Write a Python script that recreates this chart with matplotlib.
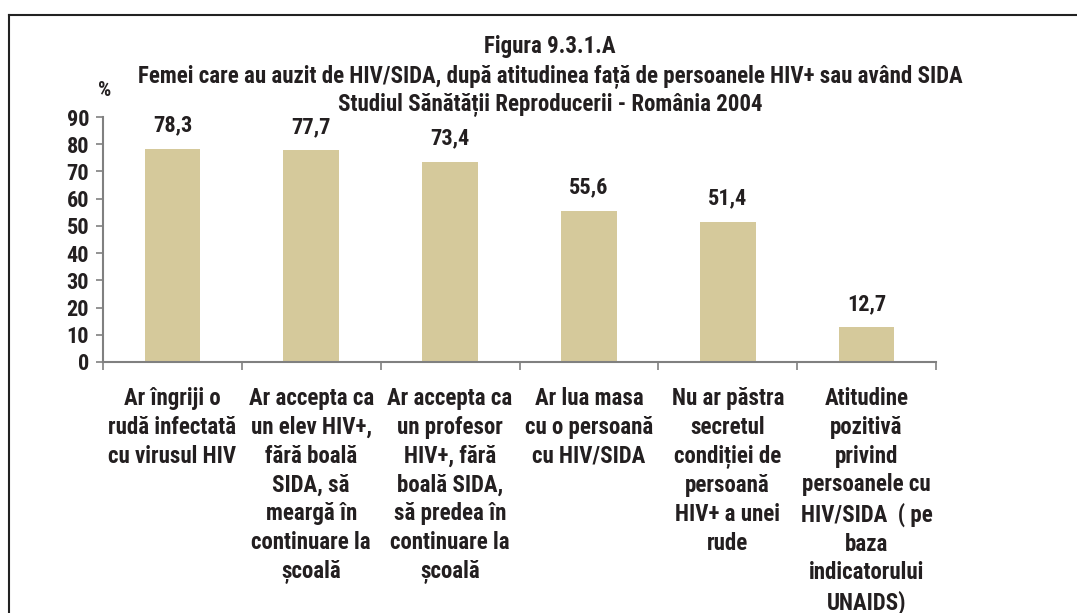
import matplotlib.pyplot as plt
from matplotlib.lines import Line2D

# ---------------------------------------------------------------------------
# data
# ---------------------------------------------------------------------------

categorii = [
    "Ar îngriji o\nrudă infectată\ncu virusul HIV",
    "Ar accepta ca\nun elev HIV+,\nfără boală\nSIDA, să\nmeargă în\ncontinuare la\nșcoală",
    "Ar accepta ca\nun profesor\nHIV+, fără\nboală SIDA,\nsă predea în\ncontinuare la\nșcoală",
    "Ar lua masa\ncu o persoană\ncu HIV/SIDA",
    "Nu ar păstra\nsecretul\ncondiției de\npersoană\nHIV+ a unei\nrude",
    "Atitudine\npozitivă\nprivind\npersoanele cu\nHIV/SIDA  ( pe\nbaza\nindicatorului\nUNAIDS)",
]
procente = [78.3, 77.7, 73.4, 55.6, 51.4, 12.7]
y_ticks = [0, 10, 20, 30, 40, 50, 60, 70, 80, 90]

titlu = ["Figura 9.3.1.A",
         "Femei care au auzit de HIV/SIDA, după atitudinea față de persoanele HIV+ sau având SIDA",
         "Studiul Sănătății Reproducerii - România 2004"]

# ---------------------------------------------------------------------------

plt.rcParams['font.family'] = ['Roboto Condensed', 'DejaVu Sans']
plt.rcParams['font.weight'] = 'bold'
INK = '#231f20'

W, H = 1077, 613
fig = plt.figure(figsize=(W / 100, H / 100), dpi=100)
ax = fig.add_axes([103 / W, 1 - 362 / H, (936 - 103) / W, (362 - 117) / H])

x = list(range(len(procente)))
ax.bar(x, procente, width=0.4, color='#d5c99b', zorder=2)

for xi, v in zip(x, procente):
    ax.annotate(f"{v:.1f}".replace('.', ','), (xi, v), xytext=(0, 9),
                textcoords='offset points', ha='center', va='bottom',
                fontsize=16, fontweight='bold', color=INK)

ax.set_xlim(-0.5, len(procente) - 0.5)
ax.set_ylim(0, 90)
ax.set_yticks(y_ticks)
ax.set_yticklabels([str(t) for t in y_ticks], fontsize=16, fontweight='bold',
                   color=INK)

ax.set_xticks(x)
ax.set_xticklabels(categorii, fontsize=16.5, fontweight='bold', color=INK,
                   linespacing=1.32, va='top')
ax.set_xticks([i - 0.5 for i in range(len(procente) + 1)], minor=True)
ax.tick_params(axis='x', which='major', length=0, pad=18)
ax.tick_params(axis='x', which='minor', length=6, width=1.2, color='#808080')
ax.tick_params(axis='y', length=5, width=1.2, color='#808080', pad=5)

for s in ['top', 'right']:
    ax.spines[s].set_visible(False)
for s in ['left', 'bottom']:
    ax.spines[s].set_color('#808080')
    ax.spines[s].set_linewidth(1.5)

# unit label above the value axis
ax.annotate("%", (0, 1), xycoords='axes fraction', xytext=(1, 12),
            textcoords='offset points', ha='center', va='bottom',
            fontsize=15, fontweight='bold', color=INK)

# title block
for y_px, line in zip([46, 77, 105], titlu):
    fig.text(550 / W, 1 - y_px / H, line, ha='center', va='center',
             fontsize=16.5, fontweight='bold', color=INK)

# frame lines (left and top)
fig.add_artist(Line2D([8.5 / W, 8.5 / W], [0, 1 - 14.5 / H],
                      transform=fig.transFigure, color='#222222', lw=1.5))
fig.add_artist(Line2D([8.5 / W, 1], [1 - 14.5 / H, 1 - 14.5 / H],
                      transform=fig.transFigure, color='#222222', lw=1.5))

fig.savefig('out.png', dpi=100)
